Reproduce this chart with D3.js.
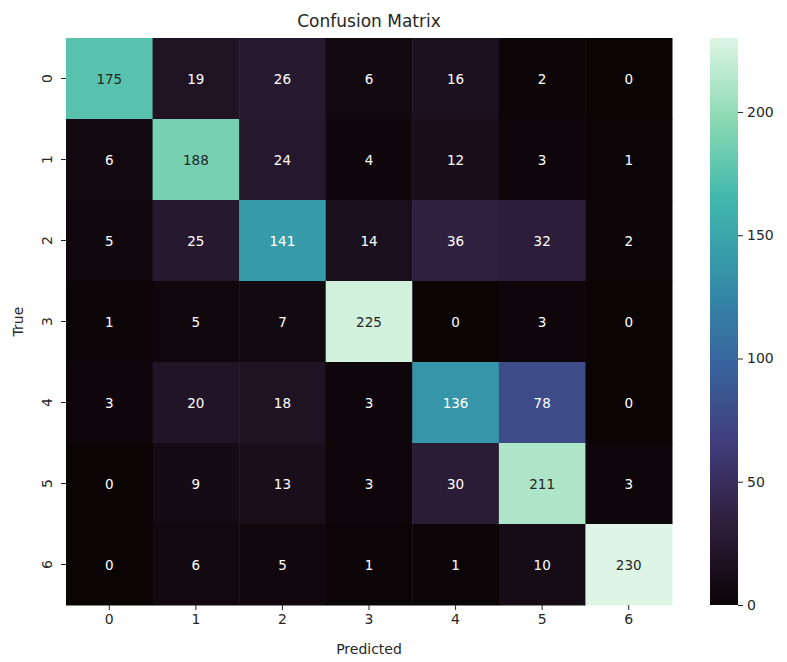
<!DOCTYPE html>
<html>
<head>
<meta charset="utf-8">
<script src="https://cdn.jsdelivr.net/npm/d3@7"></script>
<style>
  body { margin: 0; background: #fff; }
  text { font-family: "DejaVu Sans", sans-serif; }
</style>
</head>
<body>
<div id="chart-area"></div>
<script>
// class labels and confusion counts (rows = true, cols = predicted)
var labels = ["0", "1", "2", "3", "4", "5", "6"];
var counts = [
    [175, 19, 26, 6, 16, 2, 0],
    [6, 188, 24, 4, 12, 3, 1],
    [5, 25, 141, 14, 36, 32, 2],
    [1, 5, 7, 225, 0, 3, 0],
    [3, 20, 18, 3, 136, 78, 0],
    [0, 9, 13, 3, 30, 211, 3],
    [0, 6, 5, 1, 1, 10, 230]
];
var colorbarTicks = [0, 50, 100, 150, 200];

// mako colour stops
var makoStops = ["#0b0405", "#2e1e3b", "#413d7b", "#37659e", "#348fa7", "#40b7ad", "#8bdab2", "#def5e5"];

var svg = d3.select("#chart-area").append("svg")
    .attr("width", 787)
    .attr("height", 662);

// plot box (note: "top" is taken by window.top)
var pLeft = 66, pTop = 38, pRight = 672, pBottom = 605;

var x = d3.scaleBand().domain(labels).range([pLeft, pRight]);
var y = d3.scaleBand().domain(labels).range([pTop, pBottom]);

var vmax = d3.max(counts, function (r) { return d3.max(r); });
var color = d3.scaleLinear()
    .domain(makoStops.map(function (d, i) { return vmax * i / (makoStops.length - 1); }))
    .range(makoStops)
    .interpolate(d3.interpolateRgb);

// relative luminance, same rule seaborn uses for annotation colour
function luminance(c) {
    var rgb = d3.rgb(c);
    var lin = [rgb.r, rgb.g, rgb.b].map(function (v) {
        v = v / 255;
        return v <= 0.03928 ? v / 12.92 : Math.pow((v + 0.055) / 1.055, 2.4);
    });
    return 0.2126 * lin[0] + 0.7152 * lin[1] + 0.0722 * lin[2];
}

var cells = [];
counts.forEach(function (row, i) {
    row.forEach(function (v, j) {
        cells.push({ row: labels[i], col: labels[j], value: v });
    });
});

svg.selectAll("rect.cell")
    .data(cells)
    .enter().append("rect")
    .attr("class", "cell")
    .attr("x", function (d) { return x(d.col); })
    .attr("y", function (d) { return y(d.row); })
    .attr("width", x.bandwidth() + 0.5)
    .attr("height", y.bandwidth() + 0.5)
    .attr("fill", function (d) { return color(d.value); });

svg.selectAll("text.annot")
    .data(cells)
    .enter().append("text")
    .attr("class", "annot")
    .attr("x", function (d) { return x(d.col) + x.bandwidth() / 2; })
    .attr("y", function (d) { return y(d.row) + y.bandwidth() / 2; })
    .attr("text-anchor", "middle")
    .attr("dominant-baseline", "central")
    .attr("font-size", 13.5)
    .attr("fill", function (d) {
        return luminance(color(d.value)) > 0.408 ? "#262626" : "#ffffff";
    })
    .text(function (d) { return d.value; });

// axes
var xAxis = svg.append("g")
    .attr("transform", "translate(0," + pBottom + ")")
    .call(d3.axisBottom(x).tickSize(5).tickPadding(4));
xAxis.select(".domain").remove();
xAxis.selectAll("text").attr("font-size", 14).attr("fill", "#262626").style("font-family", "DejaVu Sans");
xAxis.selectAll("line").attr("stroke", "#262626");

var yAxis = svg.append("g")
    .attr("transform", "translate(" + pLeft + ",0)")
    .call(d3.axisLeft(y).tickSize(5).tickPadding(4));
yAxis.select(".domain").remove();
yAxis.selectAll("line").attr("stroke", "#262626");
yAxis.selectAll("text")
    .attr("font-size", 14).attr("fill", "#262626").style("font-family", "DejaVu Sans")
    .attr("x", null).attr("dy", null)
    .attr("text-anchor", "middle")
    .attr("transform", "translate(-19,0) rotate(-90)")
    .attr("dominant-baseline", "central");

// titles
svg.append("text")
    .attr("x", (pLeft + pRight) / 2)
    .attr("y", 27)
    .attr("text-anchor", "middle")
    .attr("font-size", 17)
    .attr("fill", "#262626")
    .text("Confusion Matrix");

svg.append("text")
    .attr("x", (pLeft + pRight) / 2)
    .attr("y", 654)
    .attr("text-anchor", "middle")
    .attr("font-size", 14)
    .attr("fill", "#262626")
    .text("Predicted");

svg.append("text")
    .attr("transform", "translate(23," + ((pTop + pBottom) / 2) + ") rotate(-90)")
    .attr("text-anchor", "middle")
    .attr("font-size", 14)
    .attr("fill", "#262626")
    .text("True");

// colorbar
var cbX = 710, cbW = 28;
var cbScale = d3.scaleLinear().domain([0, vmax]).range([pBottom, pTop]);

var defs = svg.append("defs");
var grad = defs.append("linearGradient")
    .attr("id", "mako")
    .attr("x1", 0).attr("y1", 1).attr("x2", 0).attr("y2", 0);
grad.selectAll("stop")
    .data(makoStops)
    .enter().append("stop")
    .attr("offset", function (d, i) { return i / (makoStops.length - 1); })
    .attr("stop-color", function (d) { return d; });

svg.append("rect")
    .attr("x", cbX)
    .attr("y", pTop)
    .attr("width", cbW)
    .attr("height", pBottom - pTop)
    .attr("fill", "url(#mako)");

var cbAxis = svg.append("g")
    .attr("transform", "translate(" + (cbX + cbW) + ",0)")
    .call(d3.axisRight(cbScale).tickValues(colorbarTicks).tickSize(5).tickPadding(4));
cbAxis.select(".domain").remove();
cbAxis.selectAll("line").attr("stroke", "#262626");
cbAxis.selectAll("text").attr("font-size", 14).attr("fill", "#262626").style("font-family", "DejaVu Sans");
</script>
</body>
</html>
